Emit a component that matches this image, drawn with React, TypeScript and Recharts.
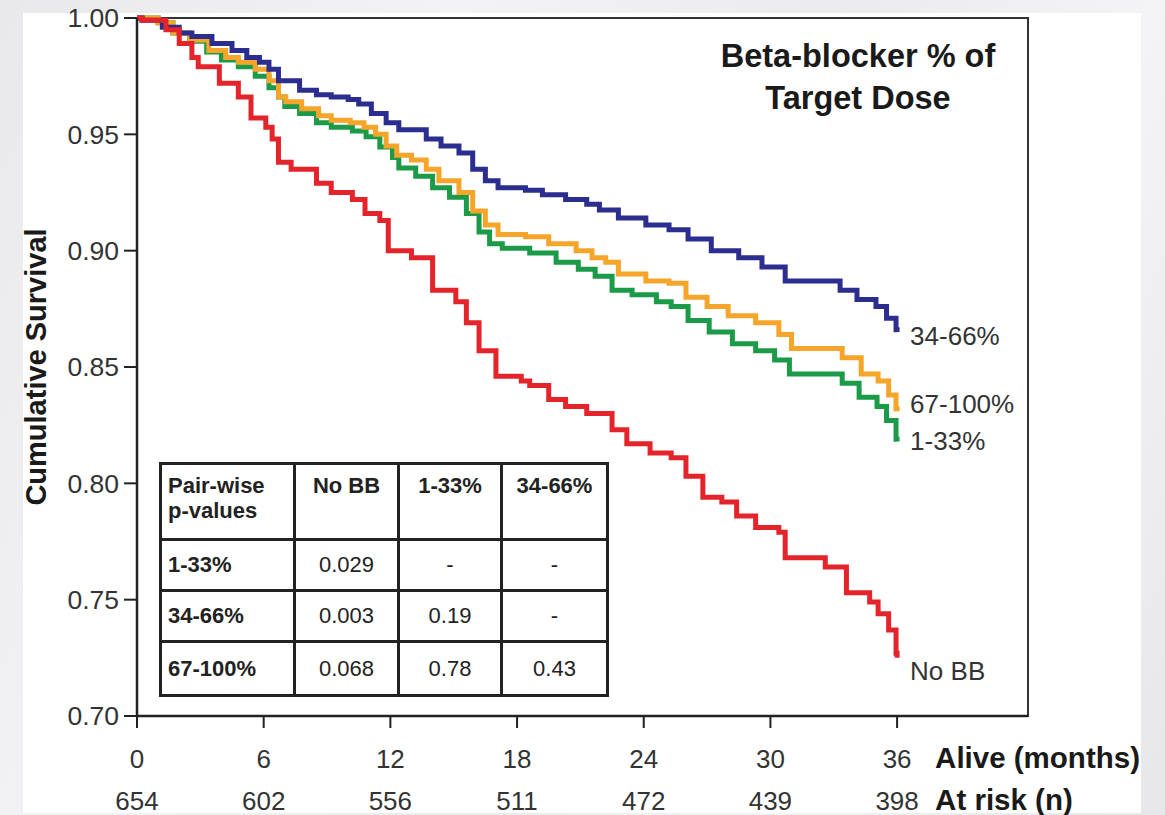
import React from "react";
import { LineChart, Line, XAxis, YAxis, ReferenceArea } from "recharts";

// x axis: months since baseline, with patients still at risk under each tick
const monthTicks = [0, 6, 12, 18, 24, 30, 36];
const atRisk = [654, 602, 556, 511, 472, 439, 398];
const survivalTicks = [0.7, 0.75, 0.8, 0.85, 0.9, 0.95, 1.0];

// Kaplan-Meier estimates per beta-blocker dose group
const noBbMonths = [0, 0.24, 1.37, 2.0, 2.6, 2.9, 3.9, 4.8, 5.4, 6.1, 6.4, 6.7, 7.3, 8.5, 9.2, 10.2, 10.8, 11.5, 11.9, 13.0, 14.0, 15.1, 15.6, 16.2, 17.0, 18.2, 18.6, 19.5, 20.3, 21.3, 22.5, 23.2, 24.3, 25.3, 26.0, 26.8, 27.7, 28.4, 29.3, 30.4, 30.7, 32.3, 32.6, 33.6, 34.7, 35.1, 35.6, 35.95, 36];
const noBbSurv = [1.0, 0.999, 0.995, 0.989, 0.983, 0.979, 0.972, 0.966, 0.957, 0.953, 0.948, 0.938, 0.935, 0.929, 0.925, 0.922, 0.916, 0.913, 0.9, 0.897, 0.883, 0.878, 0.869, 0.857, 0.846, 0.844, 0.842, 0.836, 0.833, 0.83, 0.823, 0.817, 0.813, 0.811, 0.803, 0.794, 0.792, 0.786, 0.781, 0.779, 0.768, 0.768, 0.764, 0.753, 0.749, 0.744, 0.737, 0.727, 0.725];

const lowMonths = [0, 1.0, 1.7, 2.5, 3.3, 4.0, 4.8, 5.6, 6.25, 6.7, 7.0, 7.7, 8.5, 9.2, 10.2, 10.85, 11.5, 12.1, 12.4, 13.2, 14.0, 14.8, 15.6, 16.2, 16.7, 17.3, 18.6, 19.85, 20.9, 21.7, 22.5, 23.45, 24.6, 25.3, 26.1, 27.1, 28.2, 29.3, 30.2, 30.9, 32.5, 33.4, 34.2, 35.05, 35.5, 35.95, 36];
const lowSurv = [1.0, 0.998, 0.9936, 0.99, 0.9854, 0.982, 0.979, 0.975, 0.97, 0.966, 0.962, 0.959, 0.955, 0.953, 0.9514, 0.949, 0.9446, 0.94, 0.9355, 0.932, 0.927, 0.923, 0.916, 0.908, 0.903, 0.901, 0.899, 0.895, 0.892, 0.889, 0.883, 0.881, 0.878, 0.876, 0.87, 0.865, 0.86, 0.857, 0.853, 0.847, 0.847, 0.843, 0.837, 0.833, 0.827, 0.819, 0.818];

const midMonths = [0, 0.24, 1.2, 2.0, 2.6, 3.55, 4.5, 5.2, 5.8, 6.25, 6.7, 7.7, 8.5, 9.2, 10.0, 10.5, 11.1, 11.8, 12.4, 13.0, 13.7, 14.4, 15.25, 15.9, 16.5, 17.1, 18.4, 19.2, 20.3, 21.3, 21.9, 22.8, 24.1, 25.2, 26.1, 27.2, 28.5, 29.6, 30.7, 32.3, 33.3, 34.1, 35.0, 35.5, 35.95, 36];
const midSurv = [1.0, 0.999, 0.996, 0.9936, 0.992, 0.989, 0.986, 0.983, 0.981, 0.978, 0.973, 0.969, 0.967, 0.966, 0.965, 0.963, 0.959, 0.955, 0.952, 0.952, 0.948, 0.945, 0.942, 0.935, 0.93, 0.927, 0.926, 0.924, 0.922, 0.92, 0.9175, 0.914, 0.911, 0.909, 0.905, 0.9, 0.897, 0.893, 0.887, 0.887, 0.883, 0.879, 0.876, 0.871, 0.866, 0.865];

const highMonths = [0, 1.0, 1.7, 2.5, 3.4, 4.2, 4.8, 5.6, 6.25, 6.7, 7.05, 7.8, 8.6, 9.2, 10.1, 10.75, 11.3, 11.8, 12.3, 13.0, 13.7, 14.3, 15.25, 15.9, 16.5, 17.1, 18.4, 19.5, 20.8, 21.55, 22.2, 22.8, 24.1, 25.2, 26.0, 27.0, 28.0, 29.3, 30.4, 31.0, 32.5, 33.4, 34.3, 35.1, 35.6, 35.95, 36];
const highSurv = [1.0, 0.998, 0.9936, 0.9905, 0.986, 0.983, 0.981, 0.978, 0.973, 0.966, 0.964, 0.961, 0.958, 0.956, 0.955, 0.953, 0.95, 0.945, 0.941, 0.939, 0.935, 0.93, 0.925, 0.917, 0.911, 0.907, 0.906, 0.903, 0.9, 0.897, 0.895, 0.89, 0.887, 0.886, 0.88, 0.876, 0.872, 0.869, 0.864, 0.858, 0.858, 0.854, 0.847, 0.844, 0.838, 0.832, 0.831];

// pair-wise log-rank p-values
const tableCols = ["No BB", "1-33%", "34-66%"];
const tableRows = ["1-33%", "34-66%", "67-100%"];
const pValues = [
  ["0.029", "-", "-"],
  ["0.003", "0.19", "-"],
  ["0.068", "0.78", "0.43"],
];

const FONT = '"Liberation Sans", Arial, Helvetica, sans-serif';
const X_MAX = 42.2;

const toPoints = (months: number[], surv: number[]) =>
  months.map((m, i) => ({ month: m, survival: surv[i] }));

const series = [
  { name: "1-33%", color: "#1b9a47", data: toPoints(lowMonths, lowSurv), dy: 9 },
  { name: "67-100%", color: "#f5a52a", data: toPoints(highMonths, highSurv), dy: 2 },
  { name: "34-66%", color: "#2b2e8f", data: toPoints(midMonths, midSurv), dy: 13 },
  { name: "No BB", color: "#e4242b", data: toPoints(noBbMonths, noBbSurv), dy: 22 },
];

function MonthTick(props: any) {
  const { x, y, payload } = props;
  const i = monthTicks.indexOf(payload.value);
  const last = i === monthTicks.length - 1;
  return (
    <g fontFamily={FONT}>
      <text x={x} y={y + 40} textAnchor="middle" fontSize={26} fill="#333">
        {payload.value}
      </text>
      <text x={x} y={y + 82} textAnchor="middle" fontSize={26} fill="#333">
        {atRisk[i]}
      </text>
      {last && (
        <>
          <text x={x + 38} y={y + 40} fontSize={29.5} fontWeight="bold" fill="#1a1a1a">
            Alive (months)
          </text>
          <text x={x + 38} y={y + 82} fontSize={29.5} fontWeight="bold" fill="#1a1a1a">
            At risk (n)
          </text>
        </>
      )}
    </g>
  );
}

const endLabel = (name: string, lastIndex: number, dy: number) => (p: any) => {
  if (p.index !== lastIndex) return null;
  const x = p.x ?? p.viewBox?.x;
  const y = p.y ?? p.viewBox?.y;
  return (
    <text x={x + 13} y={y + dy} fontSize={26} fill="#333" fontFamily={FONT}>
      {name}
    </text>
  );
};

const cellBorder = "3px solid #222";

function PValueTable() {
  const th: React.CSSProperties = {
    border: cellBorder,
    fontWeight: "bold",
    verticalAlign: "top",
    paddingTop: 8,
    textAlign: "center",
    lineHeight: "25px",
  };
  const rowHead: React.CSSProperties = {
    border: cellBorder,
    fontWeight: "bold",
    textAlign: "left",
    paddingLeft: 6,
  };
  const td: React.CSSProperties = { border: cellBorder, textAlign: "center", fontWeight: "normal" };
  return (
    <table
      style={{
        position: "absolute",
        left: 159,
        top: 462,
        width: 447,
        height: 233,
        borderCollapse: "collapse",
        tableLayout: "fixed",
        fontFamily: FONT,
        fontSize: 22,
        color: "#222",
        background: "#fff",
      }}
    >
      <colgroup>
        <col style={{ width: 134 }} />
        <col style={{ width: 104 }} />
        <col style={{ width: 103 }} />
        <col style={{ width: 106 }} />
      </colgroup>
      <tbody>
        <tr style={{ height: 76 }}>
          <th style={{ ...th, textAlign: "left", paddingLeft: 6 }}>
            Pair-wise
            <br />
            p-values
          </th>
          {tableCols.map((c) => (
            <th key={c} style={th}>
              {c}
            </th>
          ))}
        </tr>
        {tableRows.map((r, ri) => (
          <tr key={r} style={{ height: ri === 2 ? 54 : 51 }}>
            <th style={rowHead}>{r}</th>
            {pValues[ri].map((v, ci) => (
              <td key={ci} style={td}>
                {v}
              </td>
            ))}
          </tr>
        ))}
      </tbody>
    </table>
  );
}

export default function App() {
  return (
    <div
      style={{
        position: "absolute",
        left: 0,
        top: 0,
        width: 1165,
        height: 815,
        overflow: "hidden",
        background:
          "linear-gradient(115deg, #e9e9ec 0%, #f3f3f5 30%, #ebebee 55%, #f4f4f6 75%, #e7e7ea 100%)",
      }}
    >
      <div style={{ position: "absolute", left: 23, top: 13, width: 1118, height: 800, background: "#fff" }} />
      <div style={{ position: "absolute", left: 0, top: 0 }}>
        <LineChart width={1165} height={815} margin={{ top: 18, right: 137, bottom: 0, left: 0 }}>
          <XAxis
            dataKey="month"
            type="number"
            domain={[0, X_MAX]}
            ticks={monthTicks}
            interval={0}
            height={99}
            tickSize={12}
            tickMargin={0}
            tick={<MonthTick />}
            axisLine={{ stroke: "#222", strokeWidth: 2.5 }}
            tickLine={{ stroke: "#222", strokeWidth: 2 }}
            allowDuplicatedCategory={false}
          />
          <YAxis
            type="number"
            domain={[0.7, 1.0]}
            ticks={survivalTicks}
            interval={0}
            width={137}
            tickSize={13}
            tickMargin={5}
            tickFormatter={(v: number) => v.toFixed(2)}
            tick={{ fontSize: 26.5, fill: "#333", fontFamily: FONT }}
            axisLine={{ stroke: "#222", strokeWidth: 2.5 }}
            tickLine={{ stroke: "#222", strokeWidth: 2 }}
            label={{
              content: (p: any) => {
                const vb = p.viewBox || { y: 18, height: 698 };
                const cy = vb.y + vb.height / 2;
                return (
                  <text
                    x={36}
                    y={cy}
                    transform={`rotate(-90 36 ${cy})`}
                    textAnchor="middle"
                    dominantBaseline="central"
                    fontSize={29}
                    fontWeight="bold"
                    fill="#1a1a1a"
                    fontFamily={FONT}
                  >
                    Cumulative Survival
                  </text>
                );
              },
            }}
          />
          <ReferenceArea x1={0} x2={X_MAX} y1={0.7} y2={1.0} fill="none" stroke="#333" strokeWidth={2} />
          {series.map((s) => (
            <Line
              key={s.name}
              data={s.data}
              dataKey="survival"
              type="stepAfter"
              stroke={s.color}
              strokeWidth={5}
              dot={false}
              isAnimationActive={false}
              label={endLabel(s.name, s.data.length - 1, s.dy)}
            />
          ))}
        </LineChart>
      </div>
      <div
        style={{
          position: "absolute",
          left: 688,
          top: 35,
          width: 340,
          textAlign: "center",
          fontFamily: FONT,
          fontWeight: "bold",
          fontSize: 32.5,
          lineHeight: "42px",
          color: "#1a1a1a",
        }}
      >
        Beta-blocker % of
        <br />
        Target Dose
      </div>
      <PValueTable />
    </div>
  );
}
